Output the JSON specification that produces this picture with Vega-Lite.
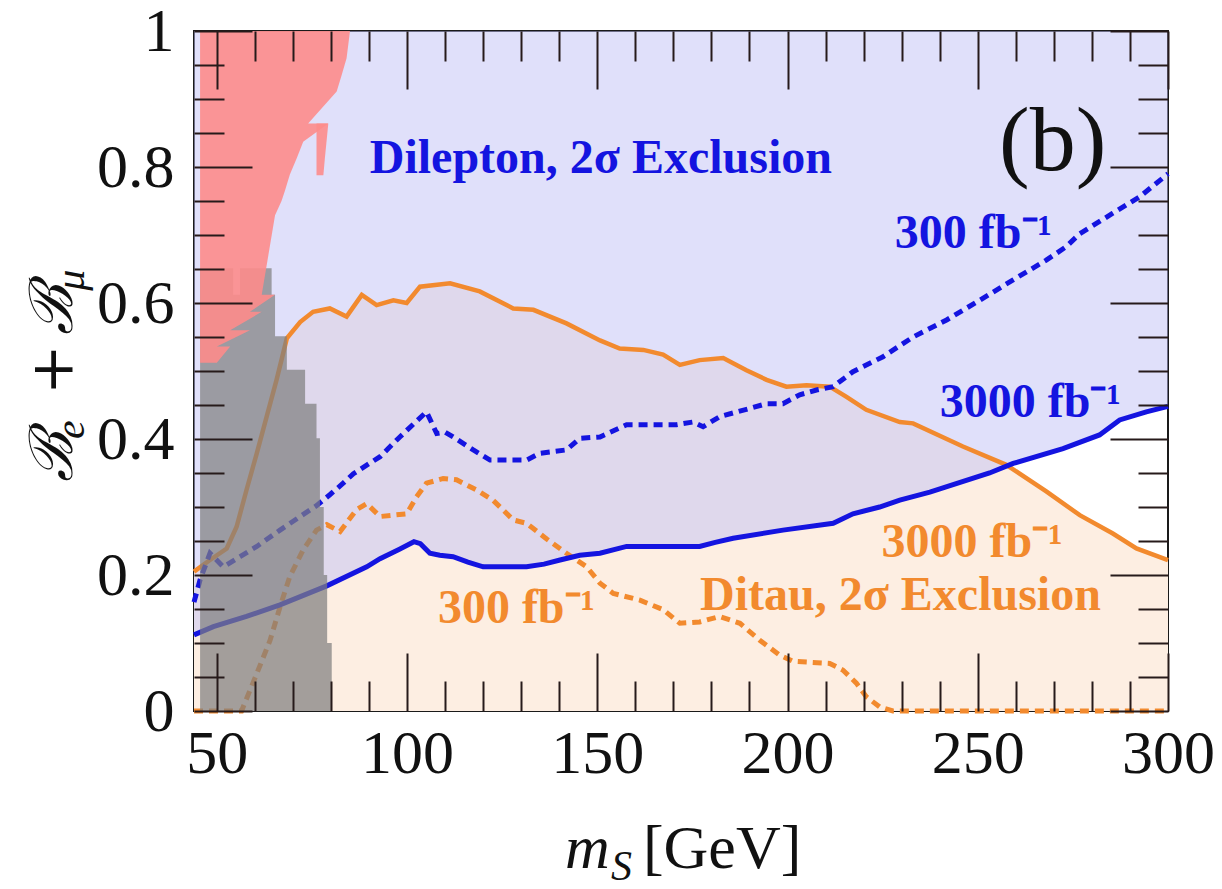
{
  "$schema": "https://vega.github.io/schema/vega-lite/v6.json",
  "width": 974,
  "height": 680,
  "autosize": {"type": "none"},
  "padding": {"left": 194, "top": 31, "right": 54, "bottom": 178},
  "background": "white",
  "config": {"view": {"stroke": "#1a1a1a", "strokeWidth": 2}},
  "datasets": {
    "curves": [
      {"series": "D3000", "m": 44.0, "B": 0.112},
      {"series": "D3000", "m": 49.1, "B": 0.124},
      {"series": "D3000", "m": 57.8, "B": 0.139},
      {"series": "D3000", "m": 66.6, "B": 0.156},
      {"series": "D3000", "m": 78.9, "B": 0.184},
      {"series": "D3000", "m": 89.4, "B": 0.212},
      {"series": "D3000", "m": 92.9, "B": 0.224},
      {"series": "D3000", "m": 98.0, "B": 0.238},
      {"series": "D3000", "m": 101.8, "B": 0.249},
      {"series": "D3000", "m": 103.5, "B": 0.246},
      {"series": "D3000", "m": 106.0, "B": 0.232},
      {"series": "D3000", "m": 108.6, "B": 0.229},
      {"series": "D3000", "m": 112.1, "B": 0.227},
      {"series": "D3000", "m": 116.0, "B": 0.219},
      {"series": "D3000", "m": 120.0, "B": 0.212},
      {"series": "D3000", "m": 131.4, "B": 0.212},
      {"series": "D3000", "m": 136.0, "B": 0.216},
      {"series": "D3000", "m": 140.2, "B": 0.222},
      {"series": "D3000", "m": 145.4, "B": 0.229},
      {"series": "D3000", "m": 150.7, "B": 0.232},
      {"series": "D3000", "m": 157.7, "B": 0.242},
      {"series": "D3000", "m": 176.9, "B": 0.242},
      {"series": "D3000", "m": 181.0, "B": 0.248},
      {"series": "D3000", "m": 185.7, "B": 0.254},
      {"series": "D3000", "m": 198.8, "B": 0.266},
      {"series": "D3000", "m": 212.0, "B": 0.276},
      {"series": "D3000", "m": 217.2, "B": 0.29},
      {"series": "D3000", "m": 224.2, "B": 0.3},
      {"series": "D3000", "m": 229.5, "B": 0.31},
      {"series": "D3000", "m": 237.4, "B": 0.322},
      {"series": "D3000", "m": 253.1, "B": 0.35},
      {"series": "D3000", "m": 259.3, "B": 0.364},
      {"series": "D3000", "m": 272.4, "B": 0.386},
      {"series": "D3000", "m": 282.0, "B": 0.406},
      {"series": "D3000", "m": 287.3, "B": 0.428},
      {"series": "D3000", "m": 294.3, "B": 0.44},
      {"series": "D3000", "m": 300.0, "B": 0.448},

      {"series": "D300", "m": 44.0, "B": 0.16},
      {"series": "D300", "m": 45.6, "B": 0.193},
      {"series": "D300", "m": 48.2, "B": 0.232},
      {"series": "D300", "m": 51.7, "B": 0.212},
      {"series": "D300", "m": 56.1, "B": 0.227},
      {"series": "D300", "m": 60.5, "B": 0.242},
      {"series": "D300", "m": 66.6, "B": 0.266},
      {"series": "D300", "m": 71.9, "B": 0.286},
      {"series": "D300", "m": 76.2, "B": 0.302},
      {"series": "D300", "m": 79.7, "B": 0.318},
      {"series": "D300", "m": 83.2, "B": 0.335},
      {"series": "D300", "m": 85.9, "B": 0.349},
      {"series": "D300", "m": 92.9, "B": 0.374},
      {"series": "D300", "m": 98.1, "B": 0.403},
      {"series": "D300", "m": 105.1, "B": 0.44},
      {"series": "D300", "m": 107.8, "B": 0.408},
      {"series": "D300", "m": 110.0, "B": 0.41},
      {"series": "D300", "m": 112.1, "B": 0.403},
      {"series": "D300", "m": 117.4, "B": 0.384},
      {"series": "D300", "m": 121.8, "B": 0.369},
      {"series": "D300", "m": 131.4, "B": 0.369},
      {"series": "D300", "m": 134.9, "B": 0.379},
      {"series": "D300", "m": 141.9, "B": 0.384},
      {"series": "D300", "m": 145.4, "B": 0.401},
      {"series": "D300", "m": 150.7, "B": 0.403},
      {"series": "D300", "m": 157.7, "B": 0.421},
      {"series": "D300", "m": 170.8, "B": 0.421},
      {"series": "D300", "m": 175.2, "B": 0.425},
      {"series": "D300", "m": 177.8, "B": 0.418},
      {"series": "D300", "m": 182.2, "B": 0.433},
      {"series": "D300", "m": 190.1, "B": 0.445},
      {"series": "D300", "m": 194.5, "B": 0.452},
      {"series": "D300", "m": 198.8, "B": 0.452},
      {"series": "D300", "m": 203.2, "B": 0.465},
      {"series": "D300", "m": 207.6, "B": 0.472},
      {"series": "D300", "m": 212.0, "B": 0.477},
      {"series": "D300", "m": 217.2, "B": 0.499},
      {"series": "D300", "m": 225.1, "B": 0.521},
      {"series": "D300", "m": 233.0, "B": 0.55},
      {"series": "D300", "m": 241.8, "B": 0.575},
      {"series": "D300", "m": 250.5, "B": 0.604},
      {"series": "D300", "m": 259.3, "B": 0.634},
      {"series": "D300", "m": 268.0, "B": 0.663},
      {"series": "D300", "m": 273.3, "B": 0.683},
      {"series": "D300", "m": 276.8, "B": 0.702},
      {"series": "D300", "m": 285.5, "B": 0.732},
      {"series": "D300", "m": 292.5, "B": 0.756},
      {"series": "D300", "m": 300.0, "B": 0.79},

      {"series": "T3000", "m": 44.0, "B": 0.205},
      {"series": "T3000", "m": 48.2, "B": 0.222},
      {"series": "T3000", "m": 52.6, "B": 0.239},
      {"series": "T3000", "m": 55.2, "B": 0.271},
      {"series": "T3000", "m": 57.8, "B": 0.325},
      {"series": "T3000", "m": 60.5, "B": 0.379},
      {"series": "T3000", "m": 63.1, "B": 0.433},
      {"series": "T3000", "m": 65.7, "B": 0.487},
      {"series": "T3000", "m": 68.4, "B": 0.548},
      {"series": "T3000", "m": 71.9, "B": 0.572},
      {"series": "T3000", "m": 75.3, "B": 0.587},
      {"series": "T3000", "m": 79.7, "B": 0.592},
      {"series": "T3000", "m": 84.1, "B": 0.58},
      {"series": "T3000", "m": 88.1, "B": 0.612},
      {"series": "T3000", "m": 92.0, "B": 0.597},
      {"series": "T3000", "m": 96.4, "B": 0.604},
      {"series": "T3000", "m": 99.9, "B": 0.6},
      {"series": "T3000", "m": 103.4, "B": 0.624},
      {"series": "T3000", "m": 111.3, "B": 0.629},
      {"series": "T3000", "m": 119.1, "B": 0.617},
      {"series": "T3000", "m": 127.9, "B": 0.592},
      {"series": "T3000", "m": 133.2, "B": 0.59},
      {"series": "T3000", "m": 141.9, "B": 0.57},
      {"series": "T3000", "m": 150.7, "B": 0.545},
      {"series": "T3000", "m": 155.9, "B": 0.533},
      {"series": "T3000", "m": 162.1, "B": 0.531},
      {"series": "T3000", "m": 167.3, "B": 0.524},
      {"series": "T3000", "m": 171.7, "B": 0.509},
      {"series": "T3000", "m": 176.9, "B": 0.516},
      {"series": "T3000", "m": 183.1, "B": 0.519},
      {"series": "T3000", "m": 189.2, "B": 0.501},
      {"series": "T3000", "m": 194.5, "B": 0.487},
      {"series": "T3000", "m": 199.7, "B": 0.477},
      {"series": "T3000", "m": 205.0, "B": 0.479},
      {"series": "T3000", "m": 211.1, "B": 0.477},
      {"series": "T3000", "m": 215.5, "B": 0.462},
      {"series": "T3000", "m": 220.7, "B": 0.443},
      {"series": "T3000", "m": 229.5, "B": 0.425},
      {"series": "T3000", "m": 233.0, "B": 0.423},
      {"series": "T3000", "m": 246.1, "B": 0.389},
      {"series": "T3000", "m": 257.5, "B": 0.362},
      {"series": "T3000", "m": 268.0, "B": 0.323},
      {"series": "T3000", "m": 276.8, "B": 0.288},
      {"series": "T3000", "m": 285.5, "B": 0.261},
      {"series": "T3000", "m": 291.7, "B": 0.239},
      {"series": "T3000", "m": 300.0, "B": 0.222},

      {"series": "T300", "m": 44.0, "B": 0.0},
      {"series": "T300", "m": 56.5, "B": 0.0},
      {"series": "T300", "m": 60.5, "B": 0.055},
      {"series": "T300", "m": 64.0, "B": 0.104},
      {"series": "T300", "m": 66.6, "B": 0.153},
      {"series": "T300", "m": 69.2, "B": 0.198},
      {"series": "T300", "m": 72.7, "B": 0.237},
      {"series": "T300", "m": 76.2, "B": 0.266},
      {"series": "T300", "m": 78.9, "B": 0.274},
      {"series": "T300", "m": 82.4, "B": 0.264},
      {"series": "T300", "m": 86.7, "B": 0.296},
      {"series": "T300", "m": 89.4, "B": 0.305},
      {"series": "T300", "m": 92.9, "B": 0.286},
      {"series": "T300", "m": 99.9, "B": 0.29},
      {"series": "T300", "m": 102.5, "B": 0.315},
      {"series": "T300", "m": 105.1, "B": 0.335},
      {"series": "T300", "m": 109.5, "B": 0.342},
      {"series": "T300", "m": 113.0, "B": 0.34},
      {"series": "T300", "m": 118.3, "B": 0.325},
      {"series": "T300", "m": 122.6, "B": 0.31},
      {"series": "T300", "m": 127.9, "B": 0.281},
      {"series": "T300", "m": 131.4, "B": 0.276},
      {"series": "T300", "m": 136.7, "B": 0.253},
      {"series": "T300", "m": 141.9, "B": 0.232},
      {"series": "T300", "m": 147.2, "B": 0.212},
      {"series": "T300", "m": 150.7, "B": 0.188},
      {"series": "T300", "m": 154.2, "B": 0.173},
      {"series": "T300", "m": 161.2, "B": 0.163},
      {"series": "T300", "m": 167.3, "B": 0.149},
      {"series": "T300", "m": 171.7, "B": 0.129},
      {"series": "T300", "m": 176.9, "B": 0.131},
      {"series": "T300", "m": 182.2, "B": 0.139},
      {"series": "T300", "m": 187.5, "B": 0.129},
      {"series": "T300", "m": 192.7, "B": 0.104},
      {"series": "T300", "m": 198.0, "B": 0.082},
      {"series": "T300", "m": 201.5, "B": 0.073},
      {"series": "T300", "m": 211.1, "B": 0.07},
      {"series": "T300", "m": 214.6, "B": 0.06},
      {"series": "T300", "m": 218.1, "B": 0.041},
      {"series": "T300", "m": 220.7, "B": 0.021},
      {"series": "T300", "m": 224.2, "B": 0.006},
      {"series": "T300", "m": 227.7, "B": 0.0},
      {"series": "T300", "m": 300.0, "B": 0.0}
    ],
    "lowmass": [
      {"m": 45.6, "top": 0.651},
      {"m": 54.3, "top": 0.651},
      {"m": 54.3, "top": 0.612},
      {"m": 56.1, "top": 0.612},
      {"m": 56.1, "top": 0.651},
      {"m": 64.4, "top": 0.651},
      {"m": 64.4, "top": 0.612},
      {"m": 65.3, "top": 0.612},
      {"m": 65.3, "top": 0.551},
      {"m": 68.4, "top": 0.551},
      {"m": 68.4, "top": 0.502},
      {"m": 73.2, "top": 0.502},
      {"m": 73.2, "top": 0.452},
      {"m": 76.2, "top": 0.452},
      {"m": 76.2, "top": 0.401},
      {"m": 77.1, "top": 0.401},
      {"m": 77.1, "top": 0.3},
      {"m": 78.1, "top": 0.3},
      {"m": 78.1, "top": 0.2},
      {"m": 79.0, "top": 0.2},
      {"m": 79.0, "top": 0.1},
      {"m": 80.2, "top": 0.1},
      {"m": 80.2, "top": 0.0}
    ],
    "lep": [
      {"part": "main", "B": 0.512, "lo": 45.6, "hi": 50.0},
      {"part": "main", "B": 0.536, "lo": 45.6, "hi": 50.0},
      {"part": "main", "B": 0.536, "lo": 45.6, "hi": 53.5},
      {"part": "main", "B": 0.56, "lo": 45.6, "hi": 53.5},
      {"part": "main", "B": 0.56, "lo": 45.6, "hi": 58.7},
      {"part": "main", "B": 0.587, "lo": 45.6, "hi": 58.7},
      {"part": "main", "B": 0.587, "lo": 45.6, "hi": 61.8},
      {"part": "main", "B": 0.612, "lo": 45.6, "hi": 61.8},
      {"part": "main", "B": 0.612, "lo": 45.6, "hi": 65.3},
      {"part": "main", "B": 0.729, "lo": 45.6, "hi": 65.3},
      {"part": "main", "B": 0.74, "lo": 45.6, "hi": 66.2},
      {"part": "main", "B": 0.75, "lo": 45.6, "hi": 67.0},
      {"part": "main", "B": 0.765, "lo": 45.6, "hi": 67.9},
      {"part": "main", "B": 0.789, "lo": 45.6, "hi": 69.2},
      {"part": "main", "B": 0.813, "lo": 45.6, "hi": 71.0},
      {"part": "main", "B": 0.837, "lo": 45.6, "hi": 72.7},
      {"part": "main", "B": 0.864, "lo": 45.6, "hi": 74.0},
      {"part": "main", "B": 0.864, "lo": 45.6, "hi": 79.3},
      {"part": "main", "B": 0.911, "lo": 45.6, "hi": 81.5},
      {"part": "main", "B": 0.935, "lo": 45.6, "hi": 82.8},
      {"part": "main", "B": 0.96, "lo": 45.6, "hi": 84.1},
      {"part": "main", "B": 1.0, "lo": 45.6, "hi": 85.0},
      {"part": "spur", "B": 0.788, "lo": 76.2, "hi": 78.0},
      {"part": "spur", "B": 0.813, "lo": 76.2, "hi": 78.4},
      {"part": "spur", "B": 0.864, "lo": 76.2, "hi": 79.3}
    ]
  },
  "resolve": {"axis": {"x": "independent", "y": "independent"}},
  "layer": [
    {
      "description": "Ditau exclusion (3000 fb-1): filled from zero up to the solid orange curve",
      "data": {"name": "curves"},
      "transform": [{"filter": "datum.series === 'T3000'"}],
      "mark": {"type": "area", "color": "#FDEEE2", "opacity": 1},
      "encoding": {
        "x": {"field": "m", "type": "quantitative", "scale": {"domain": [44, 300], "nice": false, "zero": false},
          "axis": {"orient": "bottom", "values": [50, 100, 150, 200, 250, 300], "ticks": false, "tickSize": 0, "domain": false, "grid": false, "title": null,
            "labelFont": "Liberation Serif", "labelFontSize": 62, "labelColor": "#111111", "labelPadding": 12, "labelFlush": false, "labelOverlap": false, "zindex": 1}},
        "y": {"field": "B", "type": "quantitative", "scale": {"domain": [0, 1], "nice": false, "zero": false},
          "axis": {"orient": "left", "values": [0, 0.2, 0.4, 0.6, 0.8, 1], "format": ".1~f", "ticks": false, "tickSize": 0, "domain": false, "grid": false, "title": null,
            "labelFont": "Liberation Serif", "labelFontSize": 62, "labelColor": "#111111", "labelPadding": 20, "labelFlush": false, "labelOverlap": false, "zindex": 1}},
        "y2": {"datum": 0}
      }
    },
    {
      "description": "Dilepton exclusion (3000 fb-1): filled from the solid blue curve up to one",
      "data": {"name": "curves"},
      "transform": [{"filter": "datum.series === 'D3000'"}],
      "mark": {"type": "area", "color": "#C1C1F5", "opacity": 0.5},
      "encoding": {
        "x": {"field": "m", "type": "quantitative", "scale": {"domain": [44, 300], "nice": false, "zero": false},
          "axis": {"orient": "bottom", "values": [50, 100, 150, 200, 250, 300], "labels": false, "domain": false, "grid": false, "title": null,
            "tickSize": 58, "offset": -58, "tickWidth": 2, "tickColor": "#261a1a", "zindex": 1}},
        "y": {"field": "B", "type": "quantitative", "scale": {"domain": [0, 1], "nice": false, "zero": false},
          "axis": {"orient": "left", "values": [0, 0.2, 0.4, 0.6, 0.8, 1], "labels": false, "domain": false, "grid": false, "title": null,
            "tickSize": 58, "offset": -58, "tickWidth": 2, "tickColor": "#261a1a", "zindex": 1}},
        "y2": {"datum": 1}
      }
    },
    {
      "description": "Ditau 3000 fb-1 boundary",
      "data": {"name": "curves"},
      "transform": [{"filter": "datum.series === 'T3000'"}],
      "mark": {"type": "line", "color": "#F28A2E", "strokeWidth": 4.5},
      "encoding": {
        "x": {"field": "m", "type": "quantitative", "scale": {"domain": [44, 300], "nice": false, "zero": false},
          "axis": {"orient": "bottom", "values": [60, 70, 80, 90, 110, 120, 130, 140, 160, 170, 180, 190, 210, 220, 230, 240, 260, 270, 280, 290], "labels": false, "domain": false, "grid": false, "title": null,
            "tickSize": 30, "offset": -30, "tickWidth": 2, "tickColor": "#261a1a", "zindex": 1}},
        "y": {"field": "B", "type": "quantitative", "scale": {"domain": [0, 1], "nice": false, "zero": false},
          "axis": {"orient": "left", "values": [0.05, 0.1, 0.15, 0.25, 0.3, 0.35, 0.45, 0.5, 0.55, 0.65, 0.7, 0.75, 0.85, 0.9, 0.95], "labels": false, "domain": false, "grid": false, "title": null,
            "tickSize": 30, "offset": -30, "tickWidth": 2, "tickColor": "#261a1a", "zindex": 1}}
      }
    },
    {
      "description": "Ditau 300 fb-1 boundary",
      "data": {"name": "curves"},
      "transform": [{"filter": "datum.series === 'T300'"}],
      "mark": {"type": "line", "color": "#F28A2E", "strokeWidth": 5, "strokeDash": [9, 6]},
      "encoding": {
        "x": {"field": "m", "type": "quantitative", "scale": {"domain": [44, 300], "nice": false, "zero": false},
          "axis": {"orient": "top", "values": [50, 100, 150, 200, 250, 300], "labels": false, "domain": false, "grid": false, "title": null,
            "tickSize": 58, "offset": -58, "tickWidth": 2, "tickColor": "#261a1a", "zindex": 1}},
        "y": {"field": "B", "type": "quantitative", "scale": {"domain": [0, 1], "nice": false, "zero": false},
          "axis": {"orient": "right", "values": [0, 0.2, 0.4, 0.6, 0.8, 1], "labels": false, "domain": false, "grid": false, "title": null,
            "tickSize": 58, "offset": -58, "tickWidth": 2, "tickColor": "#261a1a", "zindex": 1}}
      }
    },
    {
      "description": "Dilepton 3000 fb-1 boundary",
      "data": {"name": "curves"},
      "transform": [{"filter": "datum.series === 'D3000'"}],
      "mark": {"type": "line", "color": "#1414E0", "strokeWidth": 5},
      "encoding": {
        "x": {"field": "m", "type": "quantitative", "scale": {"domain": [44, 300], "nice": false, "zero": false},
          "axis": {"orient": "top", "values": [60, 70, 80, 90, 110, 120, 130, 140, 160, 170, 180, 190, 210, 220, 230, 240, 260, 270, 280, 290], "labels": false, "domain": false, "grid": false, "title": null,
            "tickSize": 30, "offset": -30, "tickWidth": 2, "tickColor": "#261a1a", "zindex": 1}},
        "y": {"field": "B", "type": "quantitative", "scale": {"domain": [0, 1], "nice": false, "zero": false},
          "axis": {"orient": "right", "values": [0.05, 0.1, 0.15, 0.25, 0.3, 0.35, 0.45, 0.5, 0.55, 0.65, 0.7, 0.75, 0.85, 0.9, 0.95], "labels": false, "domain": false, "grid": false, "title": null,
            "tickSize": 30, "offset": -30, "tickWidth": 2, "tickColor": "#261a1a", "zindex": 1}}
      }
    },
    {
      "description": "Dilepton 300 fb-1 boundary",
      "data": {"name": "curves"},
      "transform": [{"filter": "datum.series === 'D300'"}],
      "mark": {"type": "line", "color": "#1414E0", "strokeWidth": 5, "strokeDash": [9, 6]},
      "encoding": {
        "x": {"field": "m", "type": "quantitative", "scale": {"domain": [44, 300], "nice": false, "zero": false}, "axis": null},
        "y": {"field": "B", "type": "quantitative", "scale": {"domain": [0, 1], "nice": false, "zero": false}, "axis": null}
      }
    },
    {
      "description": "Low-mass region already excluded (grey, translucent)",
      "data": {"name": "lowmass"},
      "mark": {"type": "area", "color": "#808080", "opacity": 0.72},
      "encoding": {
        "x": {"field": "m", "type": "quantitative", "scale": {"domain": [44, 300], "nice": false, "zero": false}, "axis": null},
        "y": {"field": "top", "type": "quantitative", "scale": {"domain": [0, 1], "nice": false, "zero": false}, "axis": null},
        "y2": {"datum": 0}
      }
    },
    {
      "description": "Region excluded by LEP (red), drawn row by row in B",
      "data": {"name": "lep"},
      "mark": {"type": "area", "orient": "horizontal", "color": "#FD8C8B", "opacity": 0.9},
      "encoding": {
        "y": {"field": "B", "type": "quantitative", "scale": {"domain": [0, 1], "nice": false, "zero": false}, "axis": null},
        "x": {"field": "lo", "type": "quantitative", "scale": {"domain": [44, 300], "nice": false, "zero": false}, "axis": null},
        "x2": {"field": "hi"},
        "detail": {"field": "part"}
      }
    },
    {
      "data": {"values": [
        {"label": "Dilepton, 2σ Exclusion", "m": 90.2, "B": 0.791},
        {"label": "300 fb⁻¹", "m": 228.2, "B": 0.681},
        {"label": "3000 fb⁻¹", "m": 240.0, "B": 0.433}
      ]},
      "mark": {"type": "text", "font": "Liberation Serif", "fontWeight": "bold", "fontSize": 48, "color": "#1414E0", "align": "left", "baseline": "alphabetic"},
      "encoding": {
        "x": {"field": "m", "type": "quantitative", "scale": {"domain": [44, 300], "nice": false, "zero": false}, "axis": null},
        "y": {"field": "B", "type": "quantitative", "scale": {"domain": [0, 1], "nice": false, "zero": false}, "axis": null},
        "text": {"field": "label"}
      }
    },
    {
      "data": {"values": [
        {"label": "3000 fb⁻¹", "m": 224.7, "B": 0.227},
        {"label": "Ditau, 2σ Exclusion", "m": 177.0, "B": 0.149},
        {"label": "300 fb⁻¹", "m": 108.1, "B": 0.129}
      ]},
      "mark": {"type": "text", "font": "Liberation Serif", "fontWeight": "bold", "fontSize": 48, "color": "#F28A2E", "align": "left", "baseline": "alphabetic"},
      "encoding": {
        "x": {"field": "m", "type": "quantitative", "scale": {"domain": [44, 300], "nice": false, "zero": false}, "axis": null},
        "y": {"field": "B", "type": "quantitative", "scale": {"domain": [0, 1], "nice": false, "zero": false}, "axis": null},
        "text": {"field": "label"}
      }
    },
    {
      "data": {"values": [{"label": "(b)", "m": 269.7, "B": 0.796}]},
      "mark": {"type": "text", "font": "Liberation Serif", "fontSize": 92, "color": "#111111", "align": "center", "baseline": "alphabetic"},
      "encoding": {
        "x": {"field": "m", "type": "quantitative", "scale": {"domain": [44, 300], "nice": false, "zero": false}, "axis": null},
        "y": {"field": "B", "type": "quantitative", "scale": {"domain": [0, 1], "nice": false, "zero": false}, "axis": null},
        "text": {"field": "label"}
      }
    },
    {
      "description": "x-axis title: italic m with subscript S",
      "data": {"values": [{"label": "m", "m": 141.5, "B": -0.231}]},
      "mark": {"type": "text", "font": "Liberation Serif", "fontStyle": "italic", "fontSize": 62, "color": "#111111", "align": "left", "baseline": "alphabetic"},
      "encoding": {
        "x": {"field": "m", "type": "quantitative", "scale": {"domain": [44, 300], "nice": false, "zero": false}, "axis": null},
        "y": {"field": "B", "type": "quantitative", "scale": {"domain": [0, 1], "nice": false, "zero": false}, "axis": null},
        "text": {"field": "label"}
      }
    },
    {
      "data": {"values": [{"label": "S", "m": 153.6, "B": -0.2485}]},
      "mark": {"type": "text", "font": "Liberation Serif", "fontStyle": "italic", "fontSize": 42, "color": "#111111", "align": "left", "baseline": "alphabetic"},
      "encoding": {
        "x": {"field": "m", "type": "quantitative", "scale": {"domain": [44, 300], "nice": false, "zero": false}, "axis": null},
        "y": {"field": "B", "type": "quantitative", "scale": {"domain": [0, 1], "nice": false, "zero": false}, "axis": null},
        "text": {"field": "label"}
      }
    },
    {
      "data": {"values": [{"label": "[GeV]", "m": 162.0, "B": -0.231}]},
      "mark": {"type": "text", "font": "Liberation Serif", "fontSize": 62, "color": "#111111", "align": "left", "baseline": "alphabetic"},
      "encoding": {
        "x": {"field": "m", "type": "quantitative", "scale": {"domain": [44, 300], "nice": false, "zero": false}, "axis": null},
        "y": {"field": "B", "type": "quantitative", "scale": {"domain": [0, 1], "nice": false, "zero": false}, "axis": null},
        "text": {"field": "label"}
      }
    },
    {
      "description": "y-axis title: script B_e + B_mu, read bottom to top",
      "data": {"values": [
        {"label": "ℬ", "m": 11.95, "B": 0.337},
        {"label": "+", "m": 11.95, "B": 0.465},
        {"label": "ℬ", "m": 11.95, "B": 0.553}
      ]},
      "mark": {"type": "text", "font": "DejaVu Serif", "fontStyle": "italic", "fontSize": 60, "color": "#111111", "align": "left", "baseline": "alphabetic", "angle": 270},
      "encoding": {
        "x": {"field": "m", "type": "quantitative", "scale": {"domain": [44, 300], "nice": false, "zero": false}, "axis": null},
        "y": {"field": "B", "type": "quantitative", "scale": {"domain": [0, 1], "nice": false, "zero": false}, "axis": null},
        "text": {"field": "label"}
      }
    },
    {
      "data": {"values": [
        {"label": "e", "m": 15.1, "B": 0.4},
        {"label": "μ", "m": 15.1, "B": 0.618}
      ]},
      "mark": {"type": "text", "font": "Liberation Serif", "fontStyle": "italic", "fontSize": 42, "color": "#111111", "align": "left", "baseline": "alphabetic", "angle": 270},
      "encoding": {
        "x": {"field": "m", "type": "quantitative", "scale": {"domain": [44, 300], "nice": false, "zero": false}, "axis": null},
        "y": {"field": "B", "type": "quantitative", "scale": {"domain": [0, 1], "nice": false, "zero": false}, "axis": null},
        "text": {"field": "label"}
      }
    }
  ]
}
